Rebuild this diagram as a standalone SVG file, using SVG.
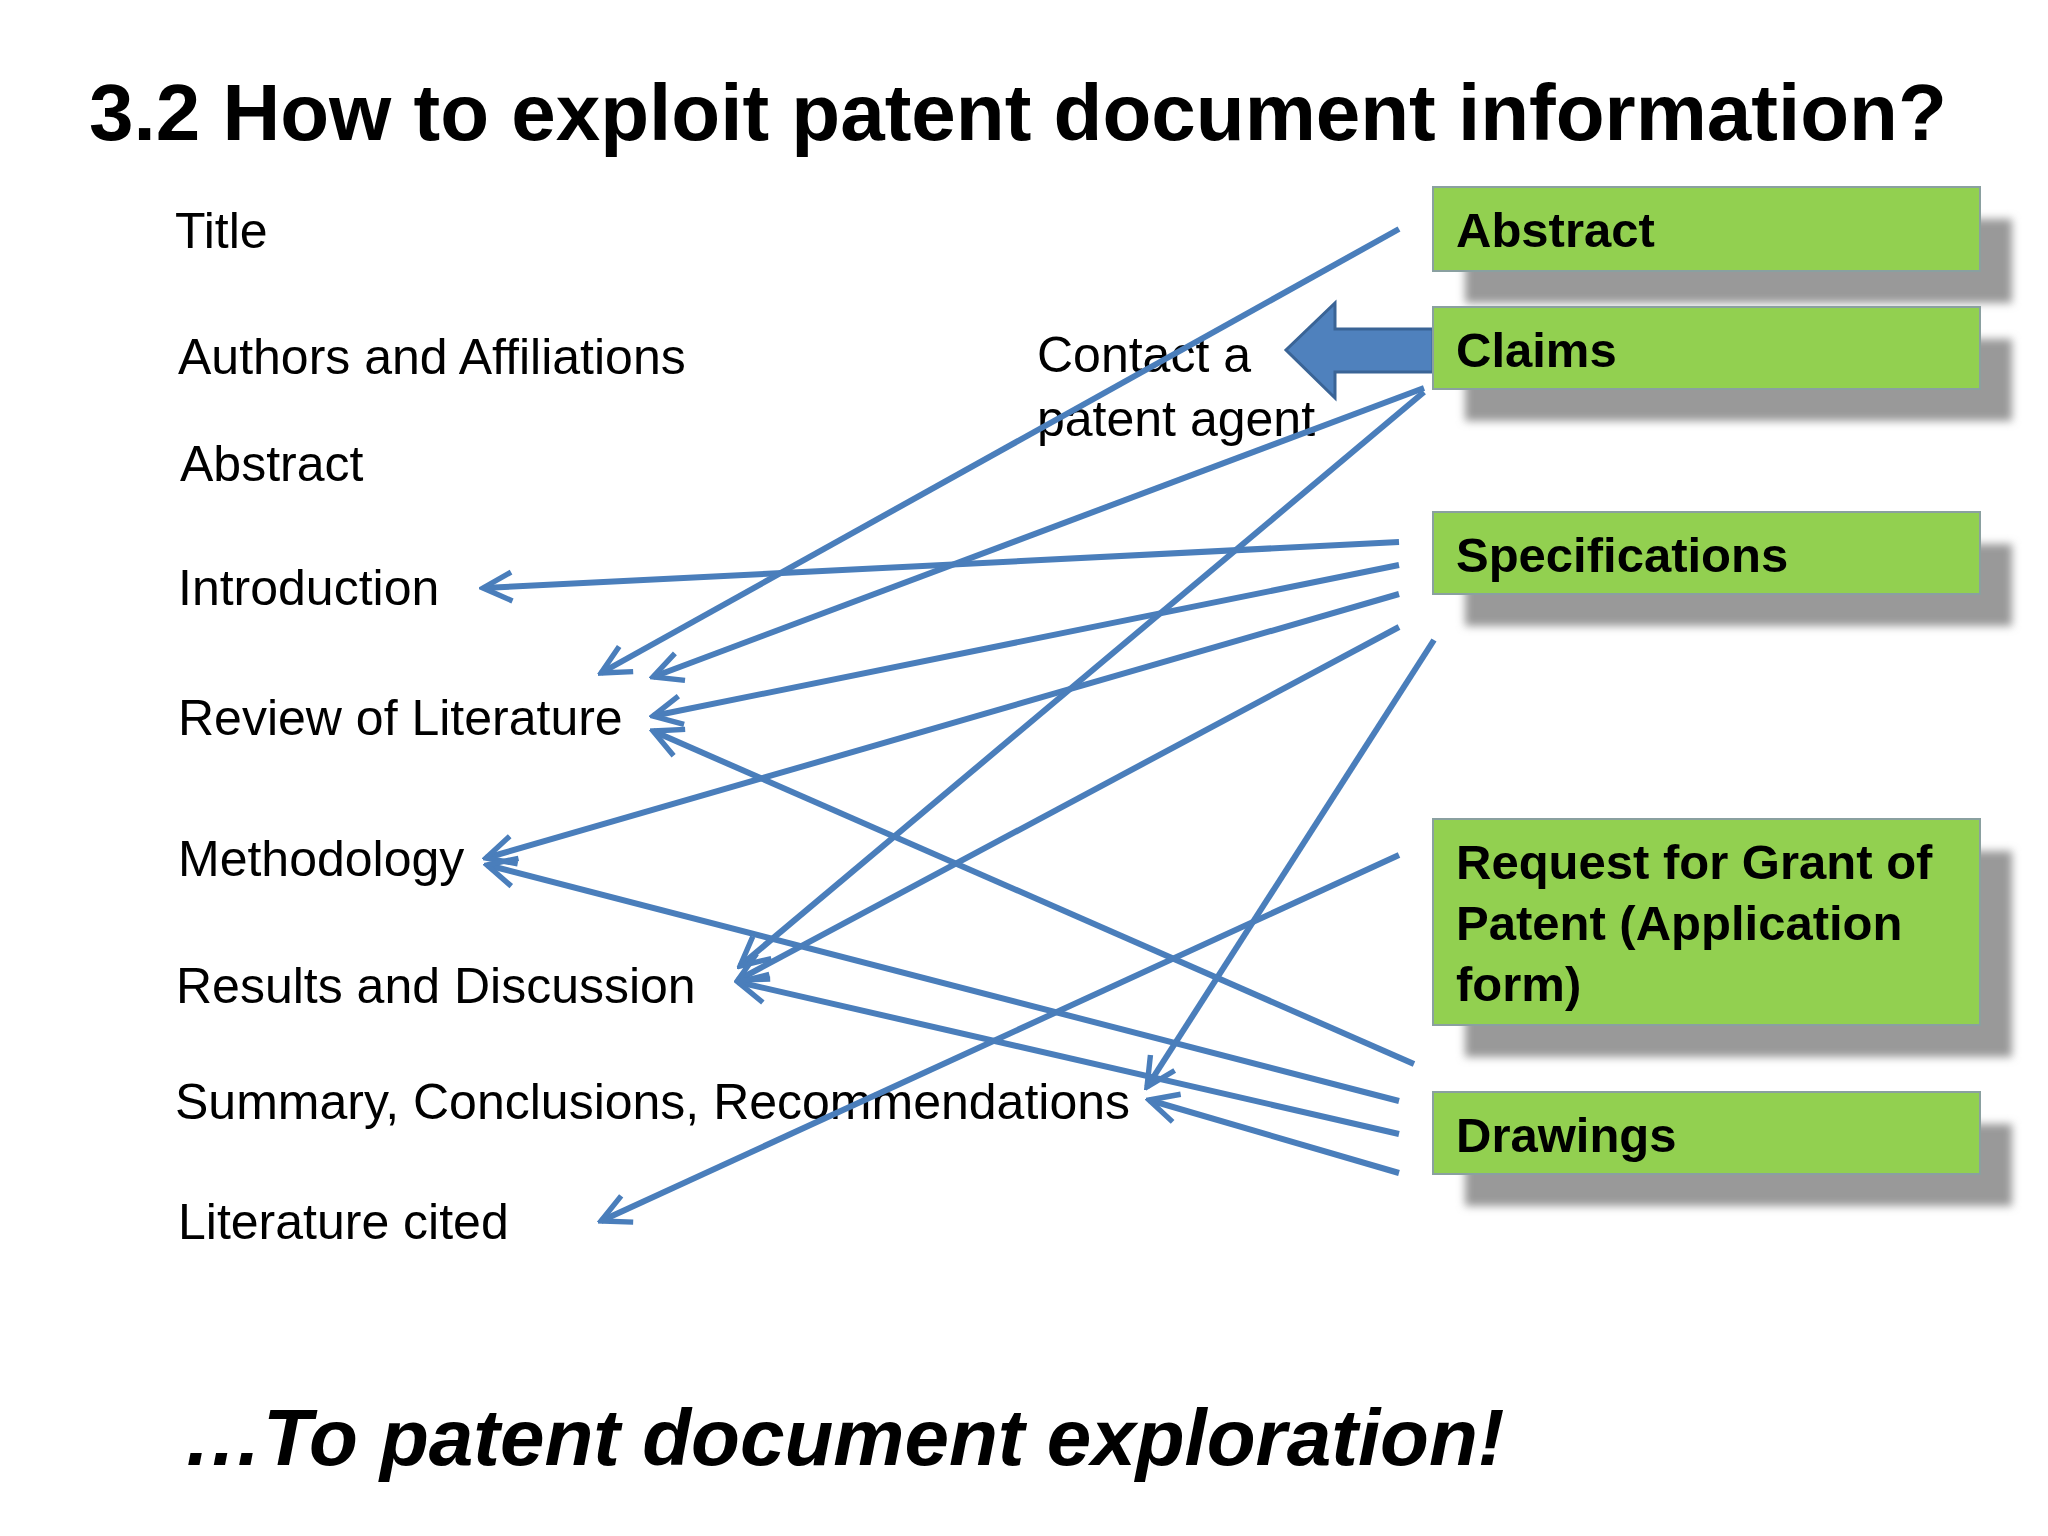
<svg xmlns="http://www.w3.org/2000/svg" width="2048" height="1536" viewBox="0 0 2048 1536">
<style>
text{font-family:"Liberation Sans",Arial,sans-serif;fill:#000}
.l{font-size:50px}
.b{font-size:49px;font-weight:bold}
.box{fill:#92d050;stroke:#8aa0a0;stroke-width:2}
.sh{fill:#999;filter:url(#blur)}
.c{stroke:#4a7ebb;stroke-width:6;fill:none;marker-end:url(#ah)}
</style>
<defs>
<filter id="blur" x="-10%" y="-30%" width="120%" height="160%"><feGaussianBlur stdDeviation="4"/></filter>
<marker id="ah" viewBox="0 0 20 20" refX="18" refY="10" markerWidth="6" markerHeight="6" orient="auto" markerUnits="strokeWidth"><path d="M2,2 L18,10 L2,18" fill="none" stroke="#4a7ebb" stroke-width="3"/></marker>
</defs>
<rect width="2048" height="1536" fill="#fff"/>
<text x="89" y="140" font-size="80" font-weight="bold">3.2 How to exploit patent document information?</text>
<g id="left">
<text class="l" x="175" y="248">Title</text>
<text class="l" x="178" y="374">Authors and Affiliations</text>
<text class="l" x="180" y="481">Abstract</text>
<text class="l" x="178" y="605">Introduction</text>
<text class="l" x="178" y="735">Review of Literature</text>
<text class="l" x="178" y="876">Methodology</text>
<text class="l" x="176" y="1003">Results and Discussion</text>
<text class="l" x="175" y="1119">Summary, Conclusions, Recommendations</text>
<text class="l" x="178" y="1239">Literature cited</text>
</g>
<g id="contact"><text class="l" x="1037" y="372">Contact a</text><text class="l" x="1037" y="436">patent agent</text></g>
<g id="bigarrow"><path d="M1433,329 H1335 V303 L1286,350 L1335,398 V372 H1433 Z" fill="#4f81bd" stroke="#3a6496" stroke-width="3"/></g>
<g id="connectors">
<line class="c" x1="1399" y1="229" x2="601" y2="673"/>
<line class="c" x1="1424" y1="388" x2="653" y2="677"/>
<line class="c" x1="1424" y1="392" x2="740" y2="966"/>
<line class="c" x1="1399" y1="542" x2="483" y2="588"/>
<line class="c" x1="1399" y1="565" x2="653" y2="716"/>
<line class="c" x1="1399" y1="594" x2="486" y2="858"/>
<line class="c" x1="1399" y1="627" x2="738" y2="980"/>
<line class="c" x1="1434" y1="640" x2="1147" y2="1087"/>
<line class="c" x1="1399" y1="855" x2="601" y2="1221"/>
<line class="c" x1="1414" y1="1064" x2="653" y2="731"/>
<line class="c" x1="1399" y1="1101" x2="487" y2="865"/>
<line class="c" x1="1399" y1="1134" x2="738" y2="982"/>
<line class="c" x1="1399" y1="1173" x2="1149" y2="1100"/>
</g>
<g id="abstract"><rect class="sh" x="1465" y="219" width="547" height="84"/><rect class="box" x="1433" y="187" width="547" height="84"/><text class="b" x="1456" y="247">Abstract</text></g>
<g id="claims"><rect class="sh" x="1465" y="339" width="547" height="82"/><rect class="box" x="1433" y="307" width="547" height="82"/><text class="b" x="1456" y="367">Claims</text></g>
<g id="specifications"><rect class="sh" x="1465" y="544" width="547" height="82"/><rect class="box" x="1433" y="512" width="547" height="82"/><text class="b" x="1456" y="572">Specifications</text></g>
<g id="request"><rect class="sh" x="1465" y="851" width="547" height="206"/><rect class="box" x="1433" y="819" width="547" height="206"/><text class="b" x="1456" y="879">Request for Grant of</text><text class="b" x="1456" y="940">Patent (Application</text><text class="b" x="1456" y="1001">form)</text></g>
<g id="drawings"><rect class="sh" x="1465" y="1124" width="547" height="82"/><rect class="box" x="1433" y="1092" width="547" height="82"/><text class="b" x="1456" y="1152">Drawings</text></g>
<text x="183" y="1465" font-size="80" font-weight="bold" font-style="italic">…To patent document exploration!</text>
</svg>
